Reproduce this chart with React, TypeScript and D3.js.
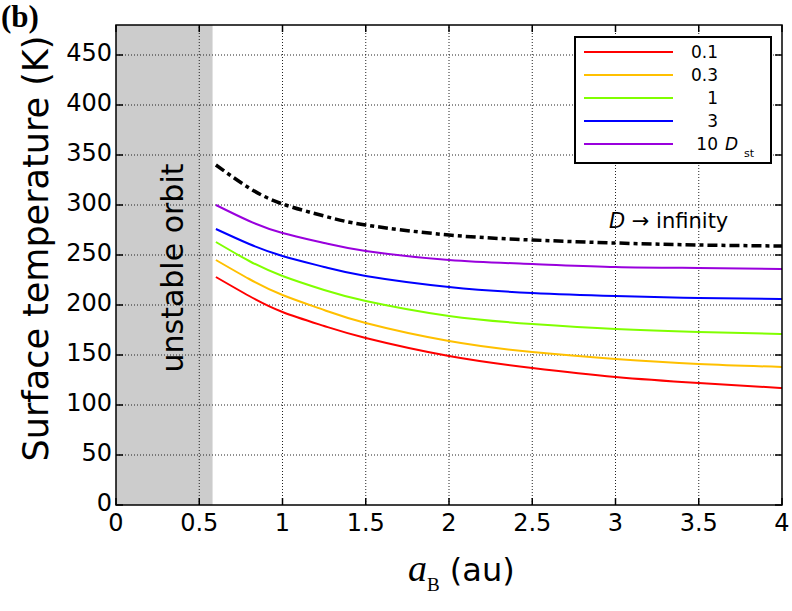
import React from "react";
import * as d3 from "d3";

// semi-major axis of the planet's orbit (au)
const aB = [0.6, 0.8, 1, 1.25, 1.5, 2, 2.5, 3, 3.5, 4];

// surface temperature (K) for each dust amount, plus the D -> infinity limit
const tempInf = [340, 317, 301, 289, 280, 270, 265, 262, 260, 259];
const temp10 = [300, 284, 272, 262, 254, 245, 241, 238, 237, 236];
const temp3 = [276, 261, 249, 238, 229, 218, 212, 209, 207, 206];
const temp1 = [263, 244, 229, 215, 204, 189, 181, 176, 173, 171];
const temp03 = [245, 226, 210, 195, 182, 164, 153, 146, 141, 138];
const temp01 = [228, 209, 193, 179, 167, 149, 137, 128, 122, 117];

const seriesLabels = ["0.1", "0.3", "1", "3", "10"];
const seriesColors = ["#ff0000", "#ffc000", "#80ff00", "#0000ff", "#9900dd"];
const seriesValues = [temp01, temp03, temp1, temp3, temp10];

const xTicks = [0, 0.5, 1, 1.5, 2, 2.5, 3, 3.5, 4];
const yTicks = [0, 50, 100, 150, 200, 250, 300, 350, 400, 450];
const unstableLimit = 0.58;

const W = 792;
const H = 611;
const margin = { top: 25, right: 10, bottom: 106, left: 116 };

export default function App() {
  const x = d3.scaleLinear().domain([0, 4]).range([margin.left, W - margin.right]);
  const y = d3.scaleLinear().domain([0, 480]).range([H - margin.bottom, margin.top]);
  const line = d3
    .line<number>()
    .x((_, i) => x(aB[i]))
    .y((d) => y(d))
    .curve(d3.curveNatural);

  const x0 = x(0);
  const x1 = x(4);
  const y0 = y(0);
  const y1 = y(480);
  const tick = 7;
  const font = "DejaVu Sans, sans-serif";

  // legend box
  const lg = { x: 575, y: 37, w: 196, h: 126, row: 23 };

  return (
    <svg
      width={W}
      height={H}
      style={{ position: "absolute", left: 0, top: 0, background: "#fff" }}
    >
      <rect x={0} y={0} width={W} height={H} fill="#fff" />
      <text x={1} y={27} fontFamily="Liberation Serif, serif" fontWeight="bold" fontSize={31}>
        (b)
      </text>

      {/* unstable region */}
      <rect x={x0} y={y1} width={x(unstableLimit) - x0} height={y0 - y1} fill="#cccccc" />

      {/* grid */}
      <g stroke="#222" strokeWidth={1} strokeDasharray="1,2">
        {xTicks.slice(1, -1).map((t) => (
          <line key={"gx" + t} x1={x(t)} x2={x(t)} y1={y0} y2={y1} />
        ))}
        {yTicks.slice(1).map((t) => (
          <line key={"gy" + t} x1={x0} x2={x1} y1={y(t)} y2={y(t)} />
        ))}
      </g>

      <text
        transform={`translate(183,268) rotate(-90)`}
        textAnchor="middle"
        fontFamily={font}
        fontSize={30}
      >
        unstable orbit
      </text>

      {/* curves */}
      {seriesValues.map((vals, i) => (
        <path key={i} d={line(vals) || ""} fill="none" stroke={seriesColors[i]} strokeWidth={2} />
      ))}
      <path
        d={line(tempInf) || ""}
        fill="none"
        stroke="#000"
        strokeWidth={3.5}
        strokeDasharray="10,4,4,4"
      />
      <text x={609} y={228} fontFamily={font} fontSize={21}>
        <tspan fontStyle="italic">D</tspan>
        <tspan> → infinity</tspan>
      </text>

      {/* frame and ticks */}
      <rect x={x0} y={y1} width={x1 - x0} height={y0 - y1} fill="none" stroke="#000" strokeWidth={1.5} />
      <g stroke="#000" strokeWidth={1.5}>
        {xTicks.map((t) => (
          <g key={"tx" + t}>
            <line x1={x(t)} x2={x(t)} y1={y0} y2={y0 - tick} />
            <line x1={x(t)} x2={x(t)} y1={y1} y2={y1 + tick} />
          </g>
        ))}
        {yTicks.map((t) => (
          <g key={"ty" + t}>
            <line x1={x0} x2={x0 + tick} y1={y(t)} y2={y(t)} />
            <line x1={x1} x2={x1 - tick} y1={y(t)} y2={y(t)} />
          </g>
        ))}
      </g>

      {/* tick labels */}
      <g fontFamily={font} fontSize={24}>
        {xTicks.map((t) => (
          <text key={"lx" + t} x={x(t)} y={y0 + 26} textAnchor="middle">
            {t}
          </text>
        ))}
        {yTicks.map((t) => (
          <text key={"ly" + t} x={x0 - 4} y={y(t) + 6} textAnchor="end">
            {t}
          </text>
        ))}
      </g>

      {/* axis titles */}
      <text x={408} y={581} fontFamily={font} fontSize={32}>
        <tspan fontFamily="Liberation Serif, serif" fontStyle="italic" fontSize={38}>
          a
        </tspan>
        <tspan fontFamily="Liberation Serif, serif" fontSize={19} dy={10}>
          B
        </tspan>
        <tspan dy={-10}> (au)</tspan>
      </text>
      <text
        transform={`translate(48,${(470 + 27) / 2}) rotate(-90)`}
        textAnchor="middle"
        fontFamily={font}
        fontSize={35}
      >
        Surface temperature (K)
      </text>

      {/* legend */}
      <rect x={lg.x} y={lg.y} width={lg.w} height={lg.h} fill="#fff" stroke="#000" strokeWidth={2} />
      {seriesLabels.map((lab, i) => {
        const ry = lg.y + 15 + i * lg.row;
        return (
          <g key={"lg" + i}>
            <line x1={584} x2={673} y1={ry} y2={ry} stroke={seriesColors[i]} strokeWidth={2} />
            <text x={718} y={ry + 6} textAnchor="end" fontFamily={font} fontSize={17}>
              {lab}
            </text>
          </g>
        );
      })}
      <text x={725} y={lg.y + 15 + 4 * lg.row + 6} fontFamily={font} fontSize={17}>
        <tspan fontStyle="italic">D</tspan>
        <tspan fontSize={11} dx={6} dy={7}>
          st
        </tspan>
      </text>
    </svg>
  );
}
